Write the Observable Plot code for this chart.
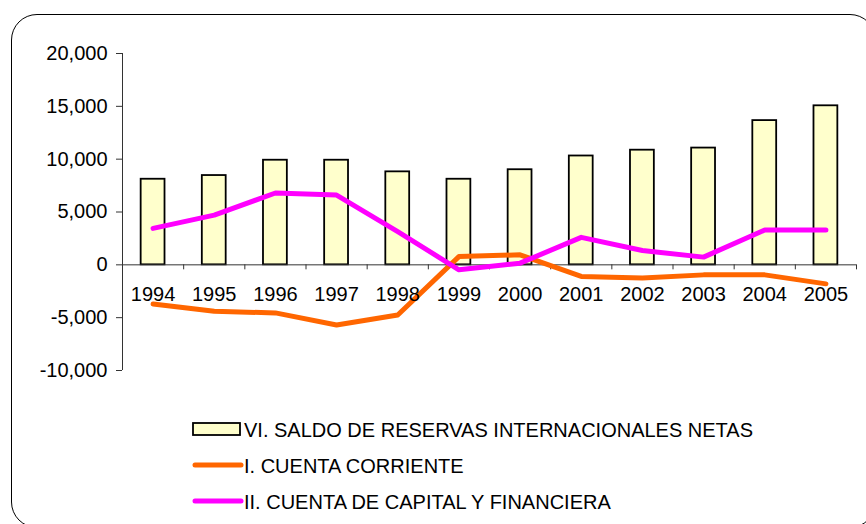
<!DOCTYPE html>
<html>
<head>
<meta charset="utf-8">
<script src="https://cdn.jsdelivr.net/npm/d3@7"></script>
<script src="https://cdn.jsdelivr.net/npm/@observablehq/plot@0.6"></script>
<style>
  html, body { margin: 0; padding: 0; background: #fff; overflow: hidden; }
  body { width: 866px; height: 524px; position: relative; font-family: "Liberation Sans", Arial, sans-serif; }
  #frame { position: absolute; left: 11px; top: 14px; width: 865px; height: 514px; border: 1.3px solid #000; border-radius: 26px; box-sizing: border-box; }
  #chart { position: absolute; left: 0; top: 0; }
  #legend { position: absolute; left: 0; top: 400px; }
</style>
</head>
<body>
<div id="frame"></div>
<div id="chart"></div>
<div id="legend"></div>
<script>
const years = [1994, 1995, 1996, 1997, 1998, 1999, 2000, 2001, 2002, 2003, 2004, 2005];
const reservas = [8100, 8450, 9900, 9900, 8800, 8100, 9000, 10300, 10850, 11050, 13650, 15050];
const cuentaCorriente = [-3700, -4400, -4550, -5700, -4750, 780, 950, -1100, -1250, -950, -950, -1800];
const cuentaCapital = [3450, 4700, 6800, 6600, 3150, -470, 160, 2600, 1350, 730, 3300, 3300];
const yTicks = [-10000, -5000, 0, 5000, 10000, 15000, 20000];
const seriesNames = [
  "VI. SALDO DE RESERVAS INTERNACIONALES NETAS",
  "I. CUENTA CORRIENTE",
  "II. CUENTA DE CAPITAL Y FINANCIERA"
];
const colors = { bar: "#FFFFCC", corriente: "#FF6600", capital: "#FF00FF" };

const bars = years.map((year, i) => ({ year, value: reservas[i] }));
const cc = years.map((year, i) => ({ year, value: cuentaCorriente[i] }));
const cap = years.map((year, i) => ({ year, value: cuentaCapital[i] }));
const boundaries = d3.range(years.length + 1).map(i => years[0] - 0.5 + i);
const halfBar = 0.195;

const plot = Plot.plot({
  width: 866,
  height: 400,
  marginLeft: 122,
  marginRight: 10,
  marginTop: 53,
  marginBottom: 30,
  style: { fontFamily: "Liberation Sans, Arial, sans-serif", fontSize: "20px", color: "#000", background: "transparent" },
  x: { type: "linear", domain: [years[0] - 0.5, years[years.length - 1] + 0.5], axis: null },
  y: { domain: [-10000, 20000], axis: null },
  marks: [
    Plot.rectY(bars, { x1: d => d.year - halfBar, x2: d => d.year + halfBar, y1: 0, y2: "value", fill: colors.bar, stroke: "#000", strokeWidth: 1.8 }),
    Plot.ruleY([0], { stroke: "#333", strokeWidth: 1 }),
    Plot.ruleX(boundaries, { x: d => d, y1: 0, y2: 0, insetBottom: -5, stroke: "#333", strokeWidth: 1 }),
    Plot.ruleX([boundaries[0]], { stroke: "#333", strokeWidth: 1 }),
    Plot.axisY({ ticks: yTicks, tickFormat: d => d.toLocaleString("en-US"), tickSize: 6, tickPadding: 9, fontSize: 20, stroke: "#333", anchor: "left", label: null }),
    Plot.line(cc, { x: "year", y: "value", stroke: colors.corriente, strokeWidth: 5, strokeLinejoin: "round", strokeLinecap: "round" }),
    Plot.line(cap, { x: "year", y: "value", stroke: colors.capital, strokeWidth: 5, strokeLinejoin: "round", strokeLinecap: "round" }),
    Plot.text(years, { x: d => d, y: 0, text: d => String(d), dy: 30, fontSize: 20, fill: "#000" })
  ]
});
document.getElementById("chart").appendChild(plot);

// Legend below the chart
const lg = d3.select("#legend").append("svg").attr("width", 866).attr("height", 124);
const rows = [
  { type: "box", color: colors.bar, y: 29 },
  { type: "line", color: colors.corriente, y: 65 },
  { type: "line", color: colors.capital, y: 101 }
];
rows.forEach((r, i) => {
  if (r.type === "box") {
    lg.append("rect").attr("x", 193).attr("y", r.y - 6).attr("width", 47).attr("height", 12)
      .attr("fill", r.color).attr("stroke", "#000").attr("stroke-width", 1.8);
  } else {
    lg.append("line").attr("x1", 195).attr("x2", 241).attr("y1", r.y).attr("y2", r.y)
      .attr("stroke", r.color).attr("stroke-width", 5).attr("stroke-linecap", "round");
  }
  lg.append("text").attr("x", 244).attr("y", r.y + 7.5)
    .attr("font-family", "Liberation Sans, Arial, sans-serif").attr("font-size", 20)
    .attr("fill", "#000").text(seriesNames[i]);
});
</script>
</body>
</html>
